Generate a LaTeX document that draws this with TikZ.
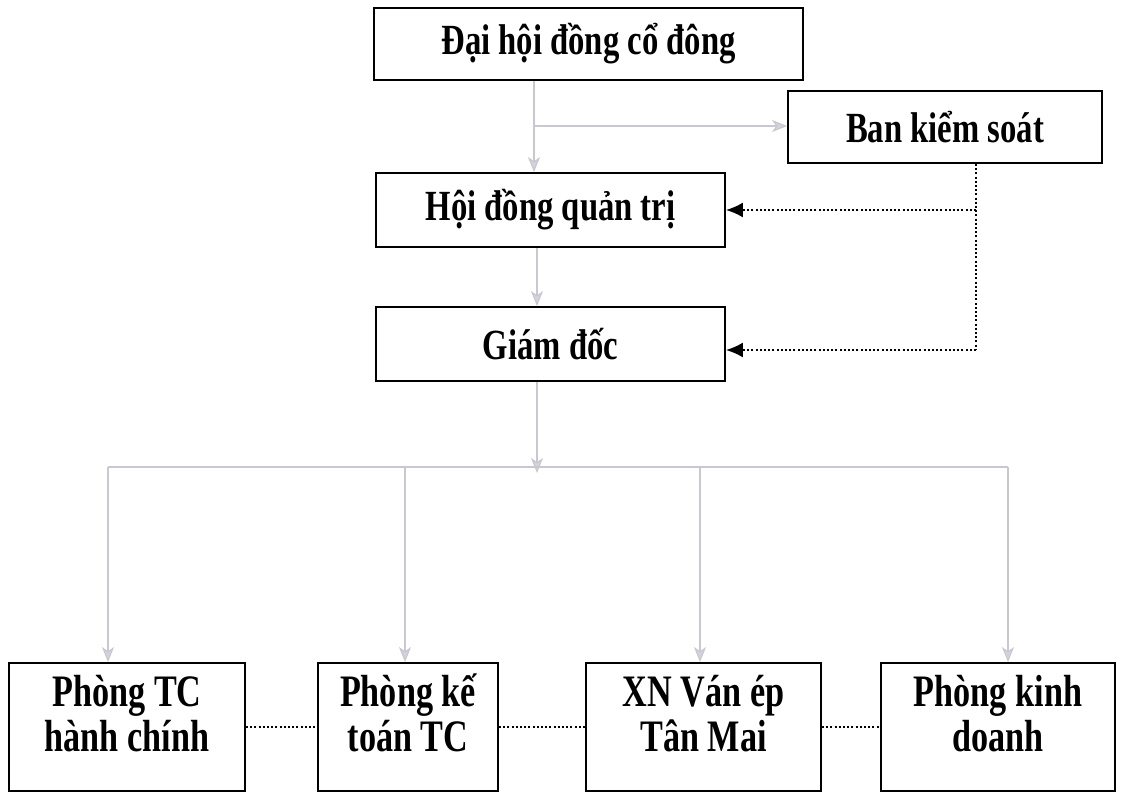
\documentclass[tikz,border=0pt]{standalone}
\usepackage{fontspec}
\setmainfont{Liberation Serif}[FakeStretch=0.76]
\usepackage{xcolor}
\usetikzlibrary{arrows.meta}
\definecolor{arrgray}{RGB}{200,200,210}

\begin{document}
\begin{tikzpicture}[x=1pt, y=-1pt,
    main/.style = {draw, line width=1.8pt, inner sep=0pt, font=\bfseries\fontsize{43}{46}\selectfont},
    unit/.style = {main, align=center, minimum height=128pt, text depth=28pt, font=\bfseries\fontsize{45}{45}\selectfont},
    grayline/.style = {draw=arrgray, line width=1.2pt},
    grayarr/.style = {grayline, -{Stealth[length=15pt, width=12pt, inset=4pt, fill=arrgray!80]}},
    dotline/.style = {line width=2pt, dash pattern=on 2pt off 2.2pt},
    dotarr/.style = {dotline, -{Latex[length=17pt, width=15pt]}}]
        \useasboundingbox (0,0) rectangle (1132,796);

        \node[main, minimum width=429pt, minimum height=72pt] (DH) at (588.5,44) {Đại hội đồng cổ đông};
        \node[main, minimum width=314pt, minimum height=72pt] (BKS) at (945,127) {Ban kiểm soát};
        \node[main, minimum width=349pt, minimum height=74pt] (HDQT) at (550.5,210) {Hội đồng quản trị};
        \node[main, minimum width=349pt, minimum height=74pt] (GD) at (550.5,344) {Giám đốc};

        \node[unit, minimum width=236pt] (PTC) at (127,727) {Phòng TC\\hành chính};
        \node[unit, minimum width=180pt] (PKT) at (408,727) {Phòng kế\\toán TC};
        \node[unit, minimum width=235pt] (XN) at (703.5,727) {XN Ván ép\\Tân Mai};
        \node[unit, minimum width=234pt] (PKD) at (998,727) {Phòng kinh\\doanh};

        % tap and bends
        \coordinate (split) at (534,126);
        \coordinate (bend) at (976,350);
        \coordinate (hub) at (537,467);

        \draw[grayline] (DH.south -| split) -- (split);
        \draw[grayarr] (split) -- (HDQT.north -| split);
        \draw[grayarr] (split) -- (BKS.west |- split);
        \draw[grayarr] (HDQT.south -| hub) -- (GD.north -| hub);
        \draw[grayarr] (GD.south -| hub) -- ([yshift=-6pt]hub);

        \draw[dotline] (BKS.south -| bend) -- (bend);
        \draw[dotarr] (bend) -- (GD.east |- bend);
        \draw[dotarr] (HDQT.east -| bend) -- (HDQT.east);

        % bus to departments
        \draw[grayline] (108,467) -- (1008,467);
        \draw[grayarr] (108,467) -- (PTC.north -| 108,0);
        \draw[grayarr] (405,467) -- (PKT.north -| 405,0);
        \draw[grayarr] (700,467) -- (XN.north -| 700,0);
        \draw[grayarr] (1008,467) -- (PKD.north -| 1008,0);

        \draw[dotline, line width=1.4pt] (PTC.east) -- (PKT.west);
        \draw[dotline, line width=1.4pt] (PKT.east) -- (XN.west);
        \draw[dotline, line width=1.4pt] (XN.east) -- (PKD.west);
    \end{tikzpicture}
\end{document}
